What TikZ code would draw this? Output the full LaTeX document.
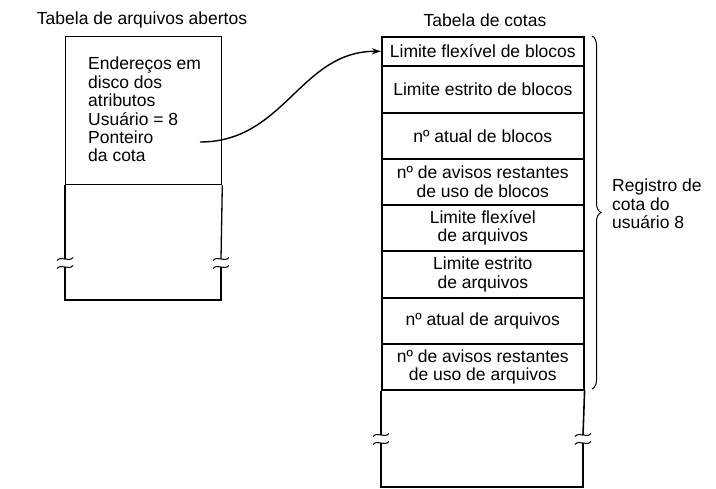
\documentclass[tikz,border=0pt]{standalone}
\usepackage{fontspec}
\setmainfont{Liberation Sans}
\usetikzlibrary{arrows.meta,decorations.pathreplacing}
\begin{document}
\begin{tikzpicture}[x=1pt,y=-1pt,
  lbl/.style={font=\fontsize{17.5}{18.4}\selectfont, inner sep=0pt},
  row/.style={draw, line width=1.6pt, minimum width=202pt, inner sep=0pt, align=center,
    anchor=north west, font=\fontsize{17.5}{18.4}\selectfont},
  frame/.style={line width=1.3pt},
  tframe/.style={line width=1.6pt},
  wave/.style={line width=1pt},
]
\useasboundingbox (0,0) rectangle (716,489);
% titles
\node[lbl] (t1) at (142,20) {Tabela de arquivos abertos};
\node[lbl] (t2) at (485,20) {Tabela de cotas};
% left table
\node[draw, frame, minimum width=156pt, minimum height=148pt, anchor=north west, inner sep=0pt] (ent) at (65,36) {};
\node[lbl, align=left, anchor=north west] (entxt) at (88,57) {Endereços em\\disco dos\\atributos\\Usuário = 8\\Ponteiro\\da cota};
\draw[frame] (ent.south west) -- (65,259);
\draw[frame] (65,267) -- (65,300) -- (221,300) -- (221,267);
\draw[frame] (221,259) -- (ent.south east);
\foreach \x/\y in {65/259,65/267,221/259,221/267}
  \draw[wave] (\x-8,\y+1.5) .. controls (\x-3,\y-4) and (\x+3,\y+4) .. (\x+8,\y-1.5);
% right table
\node[row, minimum height=29pt] (r1) at (381,36) {Limite flexível de blocos};
\node[row, minimum height=47pt] (r2) at (381,65) {Limite estrito de blocos};
\node[row, minimum height=46pt] (r3) at (381,112) {nº atual de blocos};
\node[row, minimum height=46pt] (r4) at (381,158) {nº de avisos restantes\\de uso de blocos};
\node[row, minimum height=46pt] (r5) at (381,204) {Limite flexível\\de arquivos};
\node[row, minimum height=47pt] (r6) at (381,250) {Limite estrito\\de arquivos};
\node[row, minimum height=46pt] (r7) at (381,297) {nº atual de arquivos};
\node[row, minimum height=46pt] (r8) at (381,343) {nº de avisos restantes\\de uso de arquivos};
\draw[tframe] (r8.south west) -- (381,435);
\draw[tframe] (381,443) -- (381,487) -- (583,487) -- (583,443);
\draw[tframe] (583,435) -- (r8.south east);
\foreach \x/\y in {381/435,381/443,583/435,583/443}
  \draw[wave] (\x-8,\y+1.5) .. controls (\x-3,\y-4) and (\x+3,\y+4) .. (\x+8,\y-1.5);
% brace
\coordinate (bt) at (592,36);
\coordinate (bb) at (592,389);
\draw[line width=1pt, decorate, decoration={brace, amplitude=9pt}] (bt) -- (bb);
\node[lbl, align=left, anchor=north west] (reg) at (612,179) {Registro de\\cota do\\usuário 8};
% pointer
\coordinate (ptr) at (200,142);
\draw[line width=1.4pt, -{Stealth[length=9pt,width=6pt]}] (ptr) .. controls (285,142) and (300,51) .. (r1.west);
\end{tikzpicture}
\end{document}
